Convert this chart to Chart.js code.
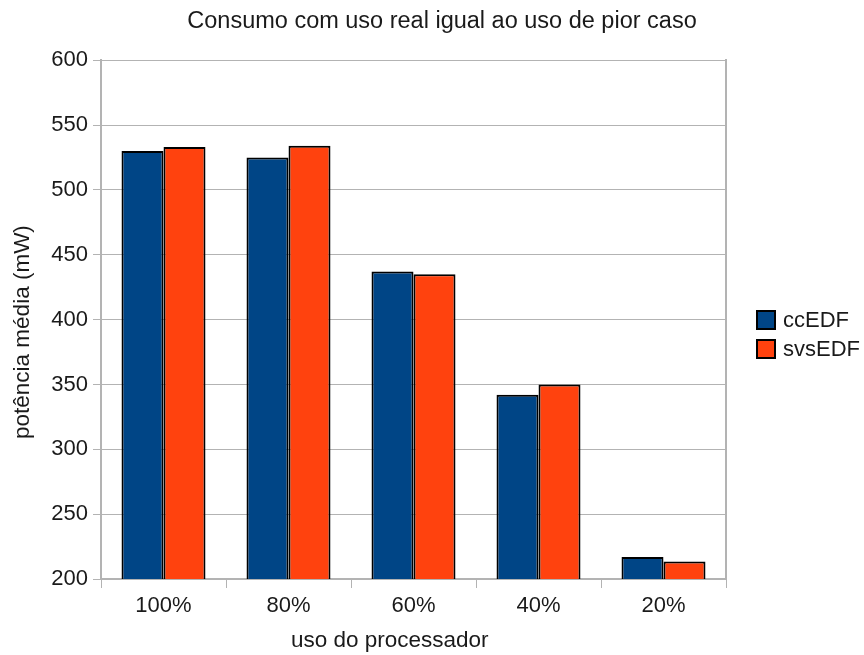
<!DOCTYPE html>
<html>
<head>
<meta charset="utf-8">
<script src="https://cdn.jsdelivr.net/npm/chart.js@4/dist/chart.umd.min.js"></script>
<style>
  html, body { margin: 0; padding: 0; background: #ffffff; }
  #wrap { width: 864px; height: 655px; position: relative; }
</style>
</head>
<body>
<div id="wrap"><canvas id="chart" width="864" height="655"></canvas></div>
<script>
// Average power per processor load, for the two DVS schedulers
const categories = ['100%', '80%', '60%', '40%', '20%'];
const ccEDF = [530, 525, 437, 342, 217];
const svsEDF = [533, 534, 435, 350, 213.5];
const seriesNames = ['ccEDF', 'svsEDF'];
const yTicks = [200, 250, 300, 350, 400, 450, 500, 550, 600];

const chartTitle = 'Consumo com uso real igual ao uso de pior caso';
const xTitle = 'uso do processador';
const yTitle = 'potência média (mW)';

const FONT = '"Liberation Sans", Arial, sans-serif';
const TEXT = '#1a1a1a';
const GRID = '#b3b3b3';
const colors = ['#004586', '#ff420e'];

// Axis titles and legend, placed relative to the plot area
const extras = {
  id: 'extras',
  afterDraw(chart) {
    const { ctx, chartArea } = chart;
    ctx.save();
    ctx.fillStyle = TEXT;
    ctx.font = '22.5px ' + FONT;
    ctx.textAlign = 'center';
    ctx.textBaseline = 'middle';
    // x axis title
    ctx.fillText(xTitle, chartArea.left + (chartArea.right - chartArea.left) * 0.462, 641);
    // y axis title
    ctx.save();
    ctx.translate(23, chartArea.top + (chartArea.bottom - chartArea.top) * 0.524);
    ctx.rotate(-Math.PI / 2);
    ctx.fillText(yTitle, 0, 0);
    ctx.restore();
    // legend
    ctx.font = '22px ' + FONT;
    const lx = chartArea.right + 31;
    const rowY = [320, 349];
    chart.data.datasets.forEach((ds, i) => {
      const cy = rowY[i];
      ctx.fillStyle = ds.backgroundColor;
      ctx.fillRect(lx, cy - 9, 18, 18);
      ctx.lineWidth = 2;
      ctx.strokeStyle = '#000000';
      ctx.strokeRect(lx, cy - 9, 18, 18);
      ctx.fillStyle = TEXT;
      ctx.textAlign = 'left';
      ctx.fillText(ds.label, lx + 26, cy + 1);
    });
    ctx.restore();
  }
};

new Chart(document.getElementById('chart'), {
  type: 'bar',
  data: {
    labels: categories,
    datasets: [
      { label: seriesNames[0], data: ccEDF, backgroundColor: colors[0], borderColor: '#000000', borderWidth: 2, borderSkipped: false },
      { label: seriesNames[1], data: svsEDF, backgroundColor: colors[1], borderColor: '#000000', borderWidth: 2, borderSkipped: false }
    ]
  },
  options: {
    responsive: false,
    animation: false,
    devicePixelRatio: 1,
    layout: { padding: { left: 20, right: 0, top: 0, bottom: 0 } },
    datasets: { bar: { categoryPercentage: 0.672, barPercentage: 1.0 } },
    plugins: {
      legend: { display: false },
      tooltip: { enabled: false },
      title: {
        display: true,
        text: chartTitle,
        color: TEXT,
        font: { family: FONT, size: 23.5, weight: 'normal' },
        padding: { top: 7, bottom: 25 }
      }
    },
    scales: {
      x: {
        grid: { display: true, drawOnChartArea: false, drawTicks: true, tickLength: 9, color: GRID, offset: true },
        border: { display: true, color: GRID, width: 2 },
        ticks: { color: TEXT, font: { family: FONT, size: 22 }, padding: 5 },
        afterFit(scale) { scale.height = 76; }
      },
      y: {
        min: 200,
        max: 600,
        afterBuildTicks(scale) { scale.ticks = yTicks.map(v => ({ value: v })); },
        grid: { color: GRID, lineWidth: 1, tickLength: 8 },
        border: { display: true, color: GRID, width: 2 },
        ticks: { color: TEXT, font: { family: FONT, size: 22 }, padding: 5 },
        afterFit(scale) { scale.width = 81; }
      },
      frame: {
        position: 'right',
        display: true,
        min: 200,
        max: 600,
        grid: { display: false },
        border: { display: true, color: GRID, width: 2 },
        ticks: { display: false },
        afterFit(scale) { scale.width = 138; }
      }
    }
  },
  plugins: [extras]
});
</script>
</body>
</html>
